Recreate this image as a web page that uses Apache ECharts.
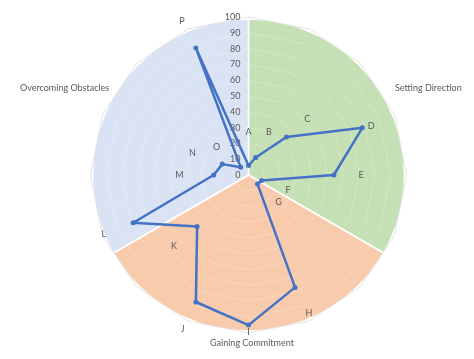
<!DOCTYPE html>
<html>
<head>
<meta charset="utf-8">
<script src="https://cdn.jsdelivr.net/npm/echarts@6/dist/echarts.min.js"></script>
<style>html,body{margin:0;padding:0;background:#fff}#c{width:474px;height:359px}</style>
</head>
<body>
<div id="c"></div>
<script>
const categories = ['A','B','C','D','E','F','G','H','I','J','K','L','M','N','O','P'];
const values = [6, 12, 34, 78, 54, 9, 8, 77, 95, 87, 46, 79, 22, 18, 7, 87];
const groups = ['Setting Direction', 'Gaining Commitment', 'Overcoming Obstacles'];
const groupShares = [1, 1, 1];
const groupColors = ['#C5E0B4', '#F8CBAD', '#DAE3F3'];
const tickMax = 100;
const tickStep = 10;

// style: per-category label gap (distance of category label from axis end)
const nameGaps = [-120, -112, -79, -29, -48, -118, -120, -9, -5, 9, -57, -4, -93, -101, -118, 9];

const FONT = 'Lato, "Liberation Sans", sans-serif';
const TXT = '#595959';
const CX = 248.5, CY = 175, R = 158;

// ECharts lays radar axes counter-clockwise; reorder so categories run clockwise
const order = [0];
for (let i = categories.length - 1; i >= 1; i--) order.push(i);

const gridColors = [];
for (let i = 0; i < tickMax / tickStep; i++) gridColors.push('rgba(255,255,255,0.22)');
gridColors.push('#E3E3E3');

const chart = echarts.init(document.getElementById('c'), null, {renderer: 'canvas'});
chart.setOption({
  animation: false,
  backgroundColor: '#fff',
  radar: {
    z: 1,
    center: [CX, CY],
    radius: R,
    startAngle: 90,
    shape: 'polygon',
    splitNumber: tickMax / tickStep,
    indicator: order.map((i, k) => {
      const ind = {name: categories[i], max: tickMax, min: 0, nameGap: nameGaps[i]};
      if (k === 0) ind.axisLabel = {show: true};
      return ind;
    }),
    axisName: {color: TXT, fontSize: 9, fontFamily: FONT},
    axisLine: {show: false},
    axisTick: {show: false},
    axisLabel: {show: false, color: TXT, fontSize: 9, fontFamily: FONT, margin: 8, showMinLabel: true, showMaxLabel: true},
    splitArea: {show: false},
    splitLine: {lineStyle: {color: gridColors, width: 1}}
  },
  series: [
    {
      type: 'pie',
      z: 0,
      silent: true,
      center: [CX, CY],
      radius: 156,
      startAngle: 90,
      clockwise: true,
      label: {show: false},
      labelLine: {show: false},
      itemStyle: {borderColor: '#fff', borderWidth: 1.5},
      data: groups.map((g, i) => ({name: g, value: groupShares[i], itemStyle: {color: groupColors[i]}}))
    },
    {
      type: 'radar',
      z: 3,
      symbol: 'circle',
      symbolSize: 5,
      lineStyle: {color: '#4472C4', width: 2.5},
      itemStyle: {color: '#4472C4'},
      data: [{value: order.map(i => values[i]), name: 'Score'}]
    }
  ],
  graphic: [
    {type: 'text', left: 395, top: 84, style: {text: groups[0], fill: TXT, font: '9px ' + FONT}},
    {type: 'text', left: 210, top: 339, style: {text: groups[1], fill: TXT, font: '9px ' + FONT}},
    {type: 'text', left: 20, top: 84, style: {text: groups[2], fill: TXT, font: '9px ' + FONT}}
  ]
});
</script>
</body>
</html>
